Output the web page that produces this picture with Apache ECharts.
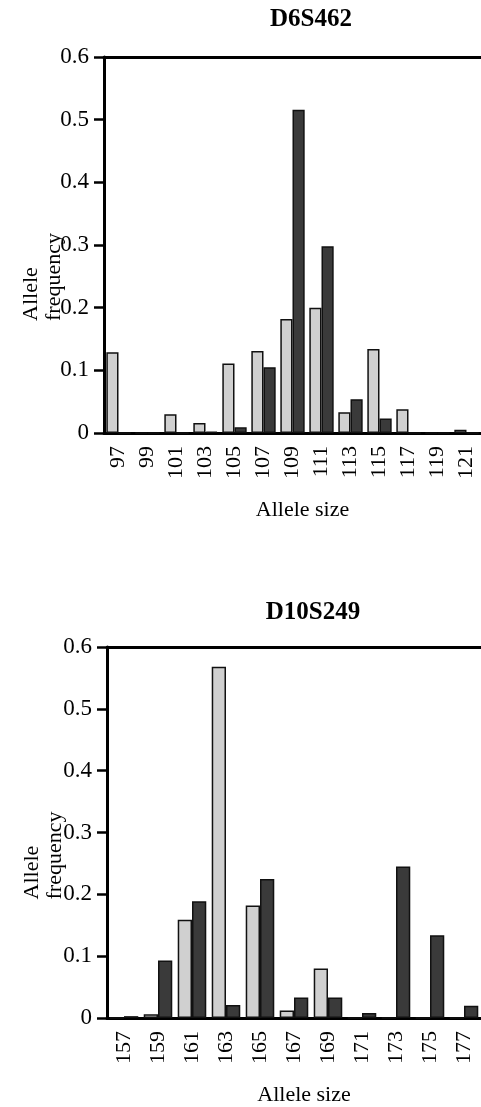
<!DOCTYPE html>
<html>
<head>
<meta charset="utf-8">
<script src="https://cdn.jsdelivr.net/npm/echarts@6/dist/echarts.min.js"></script>
<style>
html,body{margin:0;padding:0;background:#fff;}
#chart{width:481px;height:1107px;}
</style>
</head>
<body>
<div id="chart"></div>
<script>
// ---- data ----
const titles = ['D6S462', 'D10S249'];
const d6Sizes = ['97','99','101','103','105','107','109','111','113','115','117','119','121'];
const d6Light = [0.129, 0, 0.030, 0.016, 0.111, 0.131, 0.182, 0.200, 0.033, 0.134, 0.038, 0, 0.005];
const d6Dark  = [0, 0, 0, 0.002, 0.009, 0.105, 0.516, 0.298, 0.054, 0.023, 0, 0, 0];
const d10Sizes = ['157','159','161','163','165','167','169','171','173','175','177'];
const d10Light = [0, 0.006, 0.159, 0.568, 0.182, 0.012, 0.080, 0, 0, 0, 0];
const d10Dark  = [0.003, 0.093, 0.189, 0.021, 0.225, 0.033, 0.033, 0.008, 0.245, 0.134, 0.020];
const yTicks = [0, 0.1, 0.2, 0.3, 0.4, 0.5, 0.6];
const xName = 'Allele size';
const yNameLines = ['Allele', 'frequency'];

const FONT = "'Liberation Serif','Times New Roman',serif";
const LIGHT = '#d0d0d0', DARK = '#3a3a3a', EDGE = '#111';

function xAxisBottom(grid, cats) {
  return {
    type: 'category', gridIndex: grid, data: cats, position: 'bottom',
    axisLine: { lineStyle: { color: '#000', width: 3 } },
    axisTick: { alignWithLabel: true, length: 12, lineStyle: { color: '#000', width: 2.5 } },
    axisLabel: { rotate: 90, margin: 13, color: '#000', fontFamily: FONT, fontSize: 22, padding: [8, 0, 0, 0] },
    name: xName, nameLocation: 'middle', nameGap: 77,
    nameTextStyle: { color: '#000', fontFamily: FONT, fontSize: 22, verticalAlign: 'middle', padding: [0, 0, 0, 20] }
  };
}
function xAxisTop(grid, cats) {
  return {
    type: 'category', gridIndex: grid, data: cats, position: 'top',
    axisLine: { lineStyle: { color: '#000', width: 3 } },
    axisTick: { show: false }, axisLabel: { show: false }
  };
}
function yAxis(grid, padRight, gap) {
  return {
    type: 'value', gridIndex: grid, min: yTicks[0], max: yTicks[yTicks.length - 1], interval: 0.1,
    axisLine: { show: true, lineStyle: { color: '#000', width: 3 } },
    axisTick: { show: true, length: 10, lineStyle: { color: '#000', width: 2.5 } },
    axisLabel: { margin: 15, color: '#000', fontFamily: FONT, fontSize: 23 },
    splitLine: { show: false },
    name: '{a|' + yNameLines[0] + '}\n{a|' + yNameLines[1] + '}',
    nameLocation: 'middle', nameRotate: 90, nameGap: gap, nameMoveOverlap: false,
    nameTextStyle: {
      align: 'center', verticalAlign: 'middle', padding: [0, padRight, 0, 0],
      rich: { a: { align: 'left', color: '#000', fontFamily: FONT, fontSize: 22, lineHeight: 23 } }
    }
  };
}
function bar(name, data, color, xi, yi) {
  return {
    type: 'bar', name: name, data: data, xAxisIndex: xi, yAxisIndex: yi,
    barGap: '0%', barCategoryGap: '16%',
    itemStyle: { color: color, borderColor: EDGE, borderWidth: 1.5 },
    emphasis: { disabled: true }, animation: false
  };
}

const chart = echarts.init(document.getElementById('chart'), null, { renderer: 'canvas' });
chart.setOption({
  backgroundColor: '#fff',
  animation: false,
  title: [
    { text: titles[0], left: 306, top: 2, textAlign: 'center',
      textStyle: { fontFamily: FONT, fontSize: 25, fontWeight: 'bold', color: '#000' } },
    { text: titles[1], left: 308, top: 595, textAlign: 'center',
      textStyle: { fontFamily: FONT, fontSize: 25, fontWeight: 'bold', color: '#000' } }
  ],
  grid: [
    { left: 104, top: 57, width: 378, height: 376 },
    { left: 107, top: 647, width: 378, height: 374 }
  ],
  xAxis: [xAxisBottom(0, d6Sizes), xAxisTop(0, d6Sizes), xAxisBottom(1, d10Sizes), xAxisTop(1, d10Sizes)],
  yAxis: [yAxis(0, 64, 61), yAxis(1, 46, 63)],
  series: [
    bar('D6S462 light', d6Light, LIGHT, 0, 0),
    bar('D6S462 dark', d6Dark, DARK, 0, 0),
    bar('D10S249 light', d10Light, LIGHT, 2, 1),
    bar('D10S249 dark', d10Dark, DARK, 2, 1)
  ]
});
</script>
</body>
</html>
